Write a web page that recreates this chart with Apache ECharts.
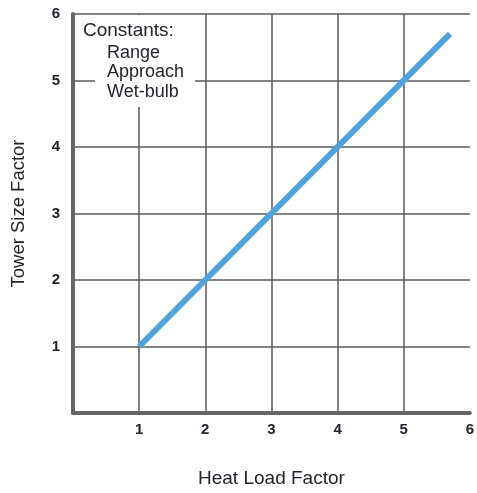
<!DOCTYPE html>
<html>
<head>
<meta charset="utf-8">
<style>
  html, body { margin: 0; padding: 0; background: #fff; overflow: hidden; }
  #chart { width: 477px; height: 493px; }
</style>
<script src="https://cdn.jsdelivr.net/npm/echarts@6/dist/echarts.min.js"></script>
</head>
<body>
<div id="chart"></div>
<script>
// Heat load factor vs. tower size factor (range, approach and wet-bulb held constant)
const heatLoadFactor = [1, 5.7];
const towerSizeFactor = [1, 5.7];
const axisTicks = [0, 1, 2, 3, 4, 5, 6];
const xTitle = 'Heat Load Factor';
const yTitle = 'Tower Size Factor';
const constantsTitle = 'Constants:';
const constantsList = ['Range', 'Approach', 'Wet-bulb'];

const FONT = 'Liberation Sans, Arial, sans-serif';
const TEXT = '#23232e';
const GRID = '#5a5a5a';

const chart = echarts.init(document.getElementById('chart'), null, { renderer: 'canvas', width: 477, height: 493 });

const axisCommon = {
  type: 'value',
  min: axisTicks[0],
  max: axisTicks[axisTicks.length - 1],
  interval: 1,
  axisLine: { show: true, lineStyle: { color: '#666', width: 4 } },
  axisTick: { show: false },
  axisLabel: {
    color: TEXT, fontFamily: FONT, fontSize: 15, fontWeight: 'bold',
    formatter: v => (v === 0 ? '' : String(v))
  }
};

chart.setOption({
  animation: false,
  backgroundColor: '#fff',
  grid: { left: 73, width: 400, top: 14, height: 399, containLabel: false },
  xAxis: Object.assign({}, axisCommon, {
    splitLine: { show: true, showMinLine: false, showMaxLine: false, lineStyle: { color: GRID, width: 1.5 } },
    axisLabel: Object.assign({}, axisCommon.axisLabel, { margin: 9 }),
    name: xTitle,
    nameLocation: 'middle',
    nameGap: 56,
    nameTextStyle: { color: TEXT, fontFamily: FONT, fontSize: 19 }
  }),
  yAxis: Object.assign({}, axisCommon, {
    splitLine: { show: true, showMinLine: false, showMaxLine: true, lineStyle: { color: GRID, width: 1.5 } },
    axisLabel: Object.assign({}, axisCommon.axisLabel, { margin: 13 }),
    name: yTitle,
    nameLocation: 'middle',
    nameGap: 45,
    nameTextStyle: { color: TEXT, fontFamily: FONT, fontSize: 18.5 }
  }),
  series: [{
    type: 'line',
    data: heatLoadFactor.map((x, i) => [x, towerSizeFactor[i]]),
    symbol: 'none',
    lineStyle: { color: '#4fa3dc', width: 6, cap: 'butt' },
    z: 5
  }],
  graphic: [
    {
      type: 'rect',
      shape: { x: 95, y: 15, width: 100, height: 92 },
      style: { fill: '#fff' },
      z: 10
    },
    {
      type: 'text',
      x: 83, y: 21,
      style: { text: constantsTitle, fill: TEXT, font: '19px ' + FONT },
      z: 11
    },
    {
      type: 'text',
      x: 107, y: 43,
      style: {
        text: constantsList.join('\n'),
        fill: TEXT,
        font: '18px ' + FONT,
        lineHeight: 19.5
      },
      z: 11
    }
  ]
});
</script>
</body>
</html>
